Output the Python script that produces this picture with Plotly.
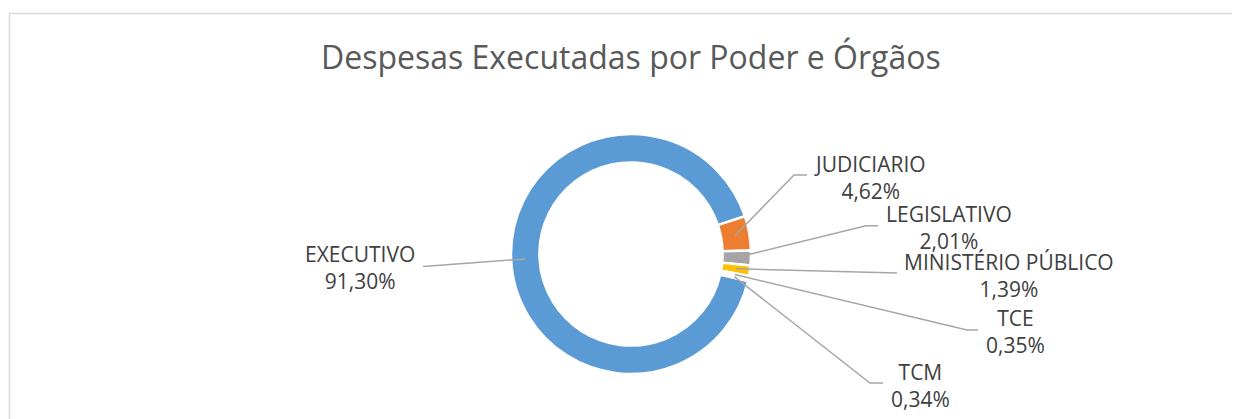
import math
import plotly.graph_objects as go

# --- dados ---
orgaos = ['EXECUTIVO', 'JUDICIARIO', 'LEGISLATIVO', 'MINISTÉRIO PÚBLICO', 'TCE', 'TCM']
percentuais = [91.30, 4.62, 2.01, 1.39, 0.35, 0.34]
cores = ['#5B9BD5', '#ED7D31', '#A5A5A5', '#FFC000', '#4472C4', '#70AD47']

# a página tem margem de 8px no body: a figura começa em (8, 8) da janela
OFF = 8
W, H = 1240 - OFF, 419 - OFF
CX, CY, R = 631, 254, 120      # centro e raio da rosca (px da janela)
HOLE = 0.763
ROTATION = 103

# posições dos rótulos (px da janela): centro do texto, cotovelo da linha, fim da linha
LABEL_POS = [
    dict(text=(360, 267), elbow=None, end=(423, 266.5)),
    dict(text=(870, 177), elbow=(794, 175), end=(807, 175)),
    dict(text=(949, 227), elbow=(866, 225.7), end=(878, 225.7)),
    dict(text=(1009, 275), elbow=None, end=(897, 273)),
    dict(text=(1015, 331.5), elbow=(967, 330), end=(978, 330)),
    dict(text=(920, 385.5), elbow=(870, 383), end=(883, 383)),
]


def px(x, y):
    return (x - OFF) / W, 1 - (y - OFF) / H


dx0, dy1 = px(CX - R, CY - R)
dx1, dy0 = px(CX + R, CY + R)

fig = go.Figure(go.Pie(
    labels=orgaos,
    values=percentuais,
    marker=dict(colors=cores, line=dict(color='white', width=2.5)),
    hole=HOLE,
    sort=False,
    direction='clockwise',
    rotation=ROTATION,
    textinfo='none',
    hoverinfo='label+percent',
    showlegend=False,
    domain=dict(x=[dx0, dx1], y=[dy0, dy1]),
))

# linhas de chamada a partir do meio de cada fatia
total = sum(percentuais)
acc = ROTATION
r_mid = R * (1 + HOLE) / 2
shapes = []
annotations = []
for nome, v, pos in zip(orgaos, percentuais, LABEL_POS):
    mid = math.radians(acc + v / total * 360 / 2)
    acc += v / total * 360
    sx = CX + r_mid * math.sin(mid)
    sy = CY - r_mid * math.cos(mid)
    pts = [(sx, sy)] + ([pos['elbow']] if pos['elbow'] else []) + [pos['end']]
    path = ''
    for i, (x, y) in enumerate(pts):
        fx, fy = px(x, y)
        path += ('M' if i == 0 else ' L') + f' {fx:.5f},{fy:.5f}'
    shapes.append(dict(type='path', xref='paper', yref='paper', path=path,
                       line=dict(color='#A6A6A6', width=1.5)))
    tx, ty = px(*pos['text'])
    label = f"{v:.2f}".replace('.', ',') + '%'
    annotations.append(dict(x=tx, y=ty, xref='paper', yref='paper',
                            text=f"{nome}<br>{label}", showarrow=False,
                            xanchor='center', yanchor='middle', align='center',
                            font=dict(family='Open Sans', size=21, color='#404040')))

# moldura da área do gráfico (lados esquerdo e superior visíveis)
bx, by = px(9.5, 13.5)
shapes.append(dict(type='path', xref='paper', yref='paper',
                   path=f'M {bx:.5f},-0.05 L {bx:.5f},{by:.5f} L 1.05,{by:.5f}',
                   line=dict(color='#D9D9D9', width=1.5), layer='below'))

# título
tx, ty = px(631, 57)
annotations.append(dict(x=tx, y=ty, xref='paper', yref='paper', showarrow=False,
                        text='Despesas Executadas por Poder e Órgãos',
                        xanchor='center', yanchor='middle',
                        font=dict(family='Open Sans', size=32, color='#595959')))

fig.update_layout(
    width=W, height=H,
    margin=dict(t=0, l=0, r=0, b=0),
    shapes=shapes,
    annotations=annotations,
    plot_bgcolor='white',
    paper_bgcolor='white',
)

fig.write_html("out.html")
